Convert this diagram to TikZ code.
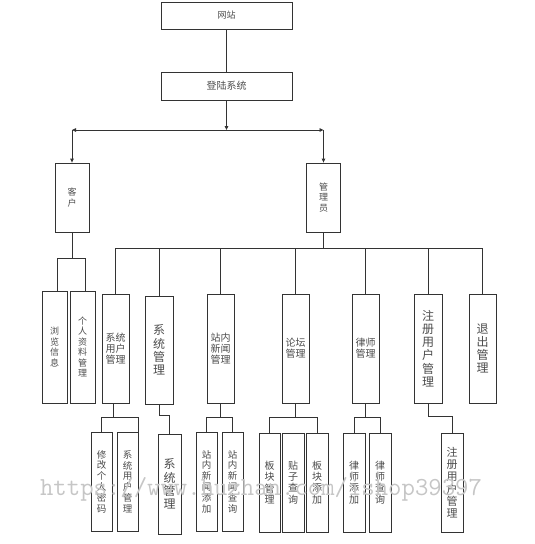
\documentclass[tikz,border=0pt]{standalone}
\usepackage{fontspec}
\newfontfamily\cjk{Noto Sans CJK SC}
\usetikzlibrary{arrows.meta}
\begin{document}
\begin{tikzpicture}[x=1pt,y=-1pt,
  bx/.style={draw=black!80, line width=0.8pt, rectangle, inner sep=0pt, align=center, fill=white,
    text=black!70, font=\cjk\fontsize{9}{10.5}\selectfont},
  fs/.style={font=\cjk\fontsize{#1}{\fpeval{#1+1.3}}\selectfont},
  ln/.style={draw=black!80, line width=0.8pt},
  ar/.style={ln, -{Triangle[length=4pt,width=3.5pt]}},
  wmark/.style={text=gray!45, font=\ttfamily\fontsize{26}{28}\selectfont}]
\useasboundingbox (0,0) rectangle (535,544);
% top
\node[bx, minimum width=131, minimum height=27] (web) at (226.5,15.5) {网站};
\node[bx, minimum width=131, minimum height=28, fs=10] (login) at (226.5,86) {登陆系统};
\node[bx, minimum width=34, minimum height=69] (kehu) at (72,197.5) {客\\户};
\node[bx, minimum width=34, minimum height=69] (admin) at (323.5,197.5) {管\\理\\员};
% level 2
\node[bx, minimum width=25, minimum height=112] (liulan) at (54.5,347) {浏\\览\\信\\息};
\node[bx, minimum width=25, minimum height=112] (geren) at (82.5,347) {个\\人\\资\\料\\管\\理};
\node[bx, minimum width=27, minimum height=109, fs=10] (xtyh) at (115.5,348.5) {系统\\用户\\管理};
\node[bx, minimum width=28, minimum height=108, fs=12] (xtgl) at (159,350) {系\\统\\管\\理};
\node[bx, minimum width=27, minimum height=109, fs=10] (znxw) at (220.5,348.5) {站内\\新闻\\管理};
\node[bx, minimum width=27, minimum height=109, fs=10] (ltgl) at (295.5,348.5) {论坛\\管理};
\node[bx, minimum width=27, minimum height=109, fs=10] (lsgl) at (365.5,348.5) {律师\\管理};
\node[bx, minimum width=28, minimum height=109, fs=12] (zcyh) at (428,348.5) {注\\册\\用\\户\\管\\理};
\node[bx, minimum width=27, minimum height=109, fs=12] (tcgl) at (482.5,348.5) {退\\出\\管\\理};
% leaves
\node[bx, minimum width=21, minimum height=99, fs=9.5] (xgmm) at (101.5,481.5) {修\\改\\个\\人\\密\\码};
\node[bx, minimum width=21, minimum height=99, fs=9.5] (xtyh2) at (127.5,481.5) {系\\统\\用\\户\\管\\理};
\node[bx, minimum width=23, minimum height=100, fs=12] (xtgl2) at (169.5,484) {系\\统\\管\\理};
\node[bx, minimum width=21, minimum height=99, fs=9.5] (zntj) at (206.5,481.5) {站\\内\\新\\闻\\添\\加};
\node[bx, minimum width=21, minimum height=99, fs=9.5] (zncx) at (232.5,481.5) {站\\内\\新\\闻\\查\\询};
\node[bx, minimum width=21, minimum height=99, fs=10] (bkgl) at (269.5,482.5) {板\\块\\管\\理};
\node[bx, minimum width=22, minimum height=99, fs=10] (tzcx) at (293,482.5) {贴\\子\\查\\询};
\node[bx, minimum width=22, minimum height=99, fs=10] (bktj) at (317,482.5) {板\\块\\添\\加};
\node[bx, minimum width=22, minimum height=99, fs=10] (lstj) at (354,482.5) {律\\师\\添\\加};
\node[bx, minimum width=22, minimum height=99, fs=10] (lscx) at (380,482.5) {律\\师\\查\\询};
\node[bx, minimum width=22, minimum height=99, fs=11] (zcyh2) at (452,482.5) {注\\册\\用\\户\\管\\理};
% connectors top
\draw[ln] (web) -- (login);
\coordinate (bl) at (72,130);
\coordinate (br) at (323.5,130);
\draw[ar] (login.south) -- (login.south |- bl);
\draw[ln, {Triangle[length=4pt,width=3.5pt]}-{Triangle[length=4pt,width=3.5pt]}] (bl) -- (br);
\draw[ar] (bl) -- (kehu.north);
\draw[ar] (br) -- (admin.north);
% kehu branch
\coordinate (kb) at (72,258);
\coordinate (kl) at (57,258);
\coordinate (kr) at (85,258);
\draw[ln] (kehu.south) -- (kb);
\draw[ln] (kl |- liulan.north) -- (kl) -- (kr) -- (kr |- geren.north);
% admin bus
\coordinate (bus) at (323.5,248);
\draw[ln] (admin.south) -- (bus);
\draw[ln] (xtyh.north) -- (xtyh.north |- bus) -- (tcgl.north |- bus) -- (tcgl.north);
\foreach \n in {xtgl,znxw,ltgl,lsgl,zcyh} \draw[ln] (\n.north) -- (\n.north |- bus);
% level 2 to leaves
\coordinate (lb) at (0,417);
\draw[ln] (113,403) coordinate (s1) -- (s1 |- lb);
\draw[ln] (xgmm.north) -- (xgmm.north |- lb) -- (xtyh2.north east |- lb) -- (xtyh2.north east);
\draw[ln] (xtgl.south) -- (xtgl.south |- 0,415) -| (xtgl2.north);
\draw[ln] (znxw.south) -- (znxw.south |- lb);
\draw[ln] (zntj.north) -- (zntj.north |- lb) -- (zncx.north |- lb) -- (zncx.north);
\draw[ln] (ltgl.south) -- (ltgl.south |- lb);
\draw[ln] (bkgl.north) -- (bkgl.north |- lb) -- (bktj.north |- lb) -- (bktj.north);
\draw[ln] (lsgl.south) -- (lsgl.south |- lb);
\draw[ln] (lstj.north) -- (lstj.north |- lb) -- (lscx.north |- lb) -- (lscx.north);
\draw[ln] (zcyh.south) -- (zcyh.south |- 0,416) -| (zcyh2.north);
% watermark
\node[wmark, anchor=base] (wm) at (261,495) {https://www.huzhan.com/ishop39397};
\end{tikzpicture}
\end{document}
